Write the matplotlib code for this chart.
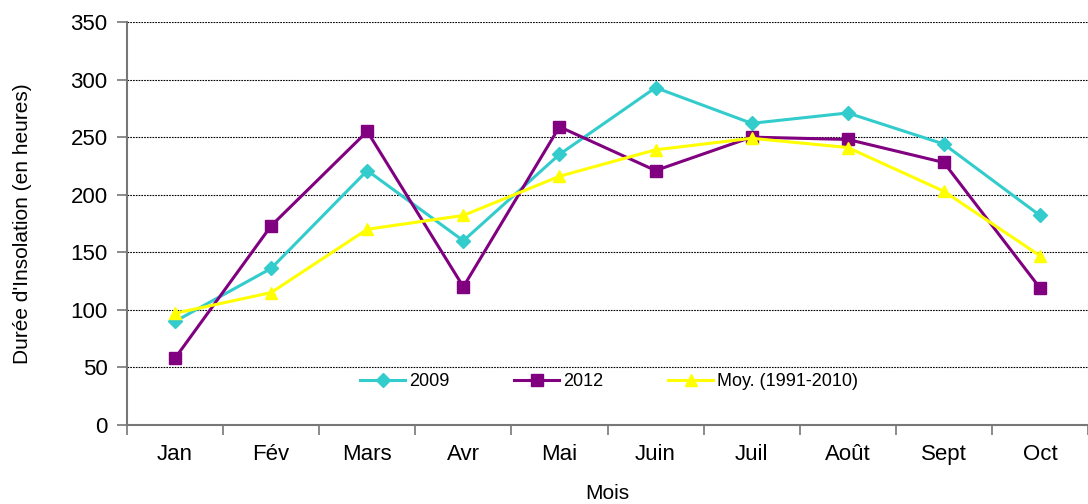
import matplotlib
matplotlib.use("Agg")
import matplotlib.pyplot as plt
from matplotlib.ticker import MultipleLocator, FixedLocator

plt.rcParams['font.family'] = ['Liberation Sans', 'DejaVu Sans']

months = ["Jan", "Fév", "Mars", "Avr", "Mai", "Juin", "Juil", "Août", "Sept", "Oct"]
s2009 = [90, 136, 221, 160, 235, 293, 262, 271, 244, 182]
s2012 = [58, 173, 255, 120, 259, 221, 250, 248, 228, 119]
moy = [97, 115, 170, 182, 216, 239, 249, 241, 203, 147]

fig = plt.figure(figsize=(10.88, 5.04), dpi=100)
ax = fig.add_axes([127/1088, 1 - 425/504, (1088-127)/1088, (425-22)/504])

x = list(range(len(months)))
ax.plot(x, s2009, color="#33CCCC", lw=2.2, marker="D", ms=7, label="2009", zorder=3)
ax.plot(x, s2012, color="#800080", lw=2.2, marker="s", ms=9, label="2012", zorder=4)
ax.plot(x, moy, color="#FFFF00", lw=2.2, marker="^", ms=9, label="Moy. (1991-2010)", zorder=5)

ax.set_xlim(-0.5, len(months) - 0.5)
ax.set_ylim(0, 350)
ax.yaxis.set_major_locator(MultipleLocator(50))
ax.set_xticks(x)
ax.set_xticklabels(months)
ax.xaxis.set_minor_locator(FixedLocator([i - 0.5 for i in range(len(months) + 1)]))
ax.tick_params(axis="x", which="major", length=0, labelsize=16, pad=14)
ax.tick_params(axis="x", which="minor", length=7, color="#777777", width=1.2)
ax.tick_params(axis="y", length=7, color="#777777", width=1.2, labelsize=16, pad=7)

ax.grid(axis="y", color="black", linestyle=(0, (1.5, 1)), linewidth=0.8)
ax.set_axisbelow(True)
for s in ["top", "right"]:
    ax.spines[s].set_visible(False)
for s in ["left", "bottom"]:
    ax.spines[s].set_color("#777777")
    ax.spines[s].set_linewidth(1.5)

ax.set_ylabel("Durée d'Insolation (en heures)", fontsize=15)
ax.yaxis.set_label_coords(-(127-32)/961, 0.5)
ax.set_xlabel("Mois", fontsize=15)
ax.xaxis.set_label_coords(0.5, -(484-425)/403)

ax.legend(loc="center", bbox_to_anchor=(482/961, (425-382)/403), ncol=3, frameon=False,
          fontsize=13, handlelength=2.5, columnspacing=3.6, handletextpad=0.2)

fig.savefig("out.png", dpi=100)
